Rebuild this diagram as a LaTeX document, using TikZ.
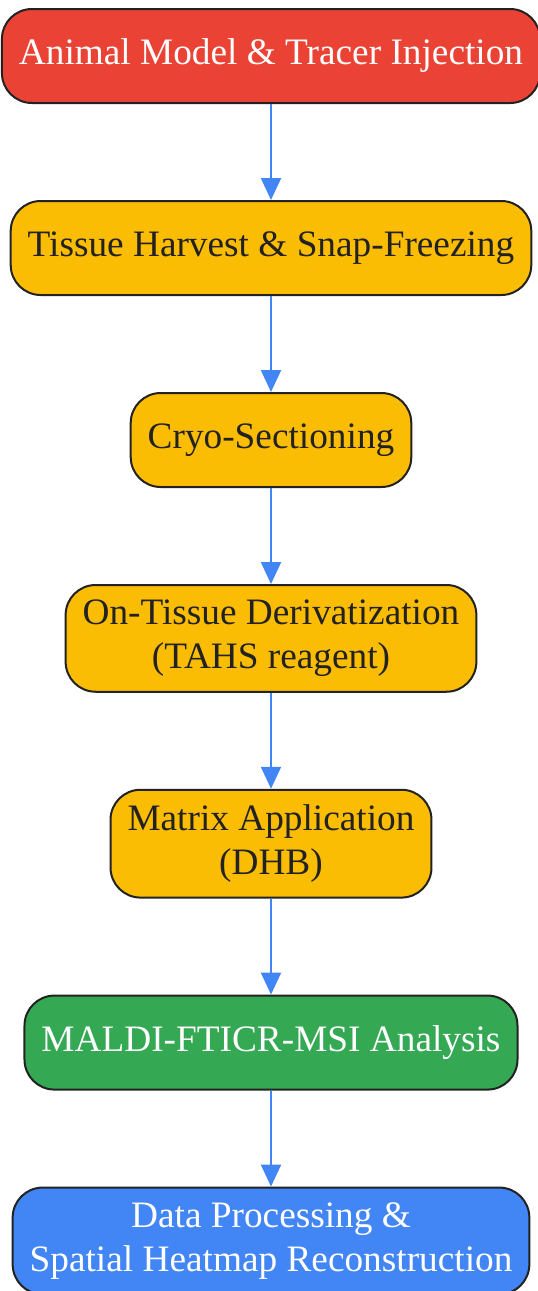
\documentclass[tikz,border=0pt]{standalone}
\usepackage{fontspec}
\setmainfont{Liberation Serif}
\usepackage{tikz}
\usetikzlibrary{positioning,arrows.meta}
\definecolor{gred}{HTML}{EA4335}
\definecolor{gyellow}{HTML}{FBBC04}
\definecolor{ggreen}{HTML}{34A853}
\definecolor{gblue}{HTML}{4285F4}
\definecolor{edge}{HTML}{222222}
\tikzset{basic/.style={draw=edge,line width=2pt,rounded corners=30pt,align=center,
    inner xsep=17pt,inner ysep=15pt,minimum height=94pt,
    font=\fontsize{37.3}{44}\selectfont}}
\tikzset{start/.style={basic,fill=gred,text=white}}
\tikzset{stage/.style={basic,fill=gyellow,text=edge}}
\tikzset{scan/.style={basic,fill=ggreen,text=white}}
\tikzset{result/.style={basic,fill=gblue,text=white}}
\tikzset{flow/.style={draw=gblue,line width=2.2pt,-{Triangle[length=22pt,width=20pt]}}}

\begin{document}
\begin{tikzpicture}[node distance=96pt]
        \useasboundingbox (0pt,0pt) rectangle (538pt,-1291pt);
        \node[start,anchor=north] (animal) at (271pt,-8pt) {Animal Model \& Tracer Injection};
        \node[stage,below=of animal] (harvest) {Tissue Harvest \& Snap-Freezing};
            \path[flow] (animal) -- (harvest);
        \node[stage,below=of harvest] (cryo) {Cryo-Sectioning};
            \path[flow] (harvest) -- (cryo);
        \node[stage,below=of cryo] (deriv) {On-Tissue Derivatization\\(TAHS reagent)};
            \path[flow] (cryo) -- (deriv);
        \node[stage,below=of deriv] (matrix) {Matrix Application\\(DHB)};
            \path[flow] (deriv) -- (matrix);
        \node[scan,below=of matrix] (maldi) {MALDI-FTICR-MSI Analysis};
            \path[flow] (matrix) -- (maldi);
        \node[result,below=of maldi] (data) {Data Processing \&\\Spatial Heatmap Reconstruction};
            \path[flow] (maldi) -- (data);
    \end{tikzpicture}
\end{document}
